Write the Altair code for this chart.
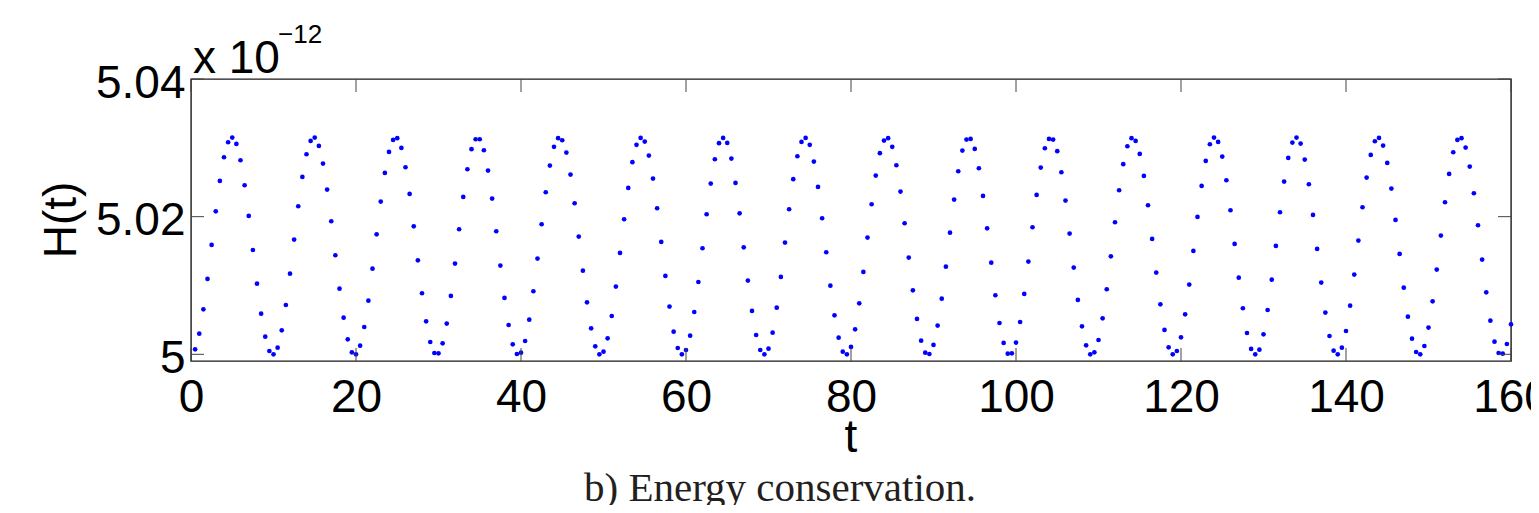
import altair as alt
import pandas as pd

h_seg1 = [
    5.00073, 5.00300, 5.00654, 5.01095, 5.01589, 5.02078, 5.02519, 5.02863, 5.03081, 5.03149,
    5.03057, 5.02820, 5.02456, 5.02011, 5.01516, 5.01027, 5.00591, 5.00257, 5.00048, 5.00000,
    5.00097, 5.00349, 5.00717, 5.01172, 5.01667, 5.02151, 5.02578, 5.02907, 5.03101, 5.03149,
    5.03028, 5.02771, 5.02393, 5.01933, 5.01439, 5.00954, 5.00533, 5.00218, 5.00029, 5.00000,
    5.00126, 5.00397, 5.00780, 5.01245, 5.01744, 5.02219, 5.02636, 5.02941, 5.03115, 5.03140,
    5.02999, 5.02718, 5.02330, 5.01860, 5.01366, 5.00887, 5.00480, 5.00179, 5.00019, 5.00015,
    5.00160, 5.00446, 5.00848, 5.01318, 5.01817, 5.02287, 5.02689, 5.02980, 5.03125, 5.03125,
    5.02965, 5.02670, 5.02263, 5.01788, 5.01289, 5.00819, 5.00426, 5.00145, 5.00005, 5.00024,
]
h_seg2 = [
    5.00194, 5.00504, 5.00916, 5.01391, 5.01890, 5.02355, 5.02742, 5.03014, 5.03140, 5.03110,
    5.02931, 5.02611, 5.02195, 5.01710, 5.01216, 5.00756, 5.00378, 5.00116, 5.00000, 5.00039,
    5.00233, 5.00557, 5.00984, 5.01473, 5.01962, 5.02418, 5.02791, 5.03043, 5.03144, 5.03091,
    5.02888, 5.02553, 5.02122, 5.01633, 5.01139, 5.00693, 5.00329, 5.00092, 5.00000, 5.00063,
    5.00271, 5.00615, 5.01051, 5.01541, 5.02035, 5.02481, 5.02834, 5.03067, 5.03144, 5.03072,
    5.02844, 5.02490, 5.02049, 5.01555, 5.01071, 5.00630, 5.00281, 5.00063, 5.00000, 5.00082,
    5.00315, 5.00678, 5.01124, 5.01623, 5.02108, 5.02544, 5.02878, 5.03086, 5.03144, 5.03043,
    5.02800, 5.02432, 5.01977, 5.01483, 5.00998, 5.00567, 5.00242, 5.00039, 5.00000, 5.00107,
]
h_seg3 = [
    5.00363, 5.00741, 5.01197, 5.01696, 5.02180, 5.02597, 5.02922, 5.03106, 5.03140, 5.03014,
    5.02747, 5.02364, 5.01904, 5.01405, 5.00930, 5.00514, 5.00199, 5.00024, 5.00005, 5.00136,
    5.00417, 5.00809, 5.01274, 5.01768, 5.02248, 5.02660, 5.02960, 5.03120, 5.03130, 5.02984,
    5.02703, 5.02301, 5.01831, 5.01332, 5.00858, 5.00455, 5.00165, 5.00010, 5.00015, 5.00170,
    5.00470, 5.00877, 5.01347, 5.01846, 5.02316, 5.02713, 5.02994, 5.03130, 5.03120, 5.02951,
    5.02645, 5.02234, 5.01754, 5.01260, 5.00790, 5.00407, 5.00131, 5.00000, 5.00029, 5.00208,
    5.00523, 5.00945, 5.01424, 5.01919, 5.02384, 5.02762, 5.03023, 5.03140, 5.03101, 5.02912,
    5.02592, 5.02166, 5.01676, 5.01187, 5.00727, 5.00354, 5.00102, 5.00000, 5.00048, 5.00247,
]
h_seg4 = [
    5.00581, 5.01013, 5.01502, 5.01996, 5.02447, 5.02810, 5.03052, 5.03149, 5.03086, 5.02873,
    5.02529, 5.02093, 5.01604, 5.01114, 5.00669, 5.00310, 5.00078, 5.00000, 5.00068, 5.00291,
    5.00644, 5.01085, 5.01575, 5.02064, 5.02510, 5.02854, 5.03077, 5.03149, 5.03062, 5.02829,
    5.02471, 5.02025, 5.01531, 5.01042, 5.00606, 5.00266, 5.00053, 5.00000, 5.00097, 5.00339,
    5.00707, 5.01158, 5.01652, 5.02137, 5.02568, 5.02897, 5.03096, 5.03144, 5.03033, 5.02781,
    5.02408, 5.01953, 5.01458, 5.00969, 5.00547, 5.00228, 5.00034, 5.00000, 5.00121, 5.00388,
    5.00770, 5.01231, 5.01725, 5.02209, 5.02621, 5.02936, 5.03115, 5.03140, 5.03004, 5.02728,
    5.02340, 5.01875, 5.01376, 5.00901, 5.00489, 5.00184, 5.00019, 5.00010, 5.00150, 5.00436,
]
h_values = h_seg1 + h_seg2 + h_seg3 + h_seg4
sample_step = 0.5
t_values = [sample_step * (i + 1) for i in range(len(h_values))]

x_ticks = [0, 20, 40, 60, 80, 100, 120, 140, 160]
y_ticks = [5, 5.02, 5.04]
x_domain = [0, 160]
y_domain = [4.99903, 5.04]

W, H = 1320, 282
FONT = "Liberation Sans"
TICK_LEN = 13

df = pd.DataFrame({"t": t_values, "H": h_values})
xs = alt.Scale(domain=x_domain, nice=False, zero=False)
ys = alt.Scale(domain=y_domain, nice=False, zero=False)

x_axis = alt.Axis(
    values=x_ticks, format="d", title=None, labelFontSize=46, labelFont=FONT,
    labelColor="#000000", labelPadding=14, ticks=False, tickSize=0, domain=False,
    grid=False, labelFlush=False, labelOverlap=False)
y_axis = alt.Axis(
    values=y_ticks, format=".2~f", title=None, labelFontSize=46, labelFont=FONT,
    labelColor="#000000", labelPadding=6, labelOffset=4, ticks=False, tickSize=0,
    domain=False, grid=False, labelFlush=False, labelOverlap=False)

points = alt.Chart(df).mark_circle(size=22, color="#0000ff", opacity=1).encode(
    x=alt.X("t:Q", scale=xs, axis=x_axis, title=None),
    y=alt.Y("H:Q", scale=ys, axis=y_axis, title=None),
)

xt = pd.DataFrame({"t": x_ticks})
yt = pd.DataFrame({"H": y_ticks})
tick_style = dict(color="#444444", strokeWidth=1)
bottom_ticks = alt.Chart(xt).mark_rule(**tick_style).encode(
    x=alt.X("t:Q", scale=xs, axis=x_axis, title=None), y=alt.value(H), y2=alt.value(H - TICK_LEN))
top_ticks = alt.Chart(xt).mark_rule(**tick_style).encode(
    x=alt.X("t:Q", scale=xs, axis=x_axis, title=None), y=alt.value(0), y2=alt.value(TICK_LEN))
left_ticks = alt.Chart(yt).mark_rule(**tick_style).encode(
    y=alt.Y("H:Q", scale=ys, axis=y_axis, title=None), x=alt.value(0), x2=alt.value(TICK_LEN))
right_ticks = alt.Chart(yt).mark_rule(**tick_style).encode(
    y=alt.Y("H:Q", scale=ys, axis=y_axis, title=None), x=alt.value(W), x2=alt.value(W - TICK_LEN))


def label(text, x, y, size, font=FONT, align="left", baseline="alphabetic", angle=0, color="#000000"):
    kw = dict(font=font, fontSize=size, align=align, baseline=baseline, color=color)
    if angle:
        kw["angle"] = angle
    return alt.Chart(pd.DataFrame({"s": [text]})).mark_text(**kw).encode(
        text="s:N", x=alt.value(x), y=alt.value(y))


exp_base = label("x 10", 2, -6, 46)
exp_sup = label("\u221212", 87, -36, 26)
x_title = label("t", 660, 373, 46, align="center")
y_title = label("H(t)", -129, 141, 46, align="center", baseline="middle", angle=270)
caption = label("b) Energy conservation.", 589, 422, 41, font="Liberation Serif",
                align="center", color="#231f20")

chart = alt.layer(
    points, bottom_ticks, top_ticks, left_ticks, right_ticks,
    exp_base, exp_sup, x_title, y_title, caption,
).properties(
    width=W, height=H,
    background="white",
    autosize=alt.AutoSizeParams(type="none"),
    padding={"left": 183, "top": 71, "right": 20, "bottom": 144},
).configure_view(
    stroke="#1a1a1a", strokeWidth=1.4,
)

chart.save("out.html", embed_options={"renderer": "svg", "actions": False})
